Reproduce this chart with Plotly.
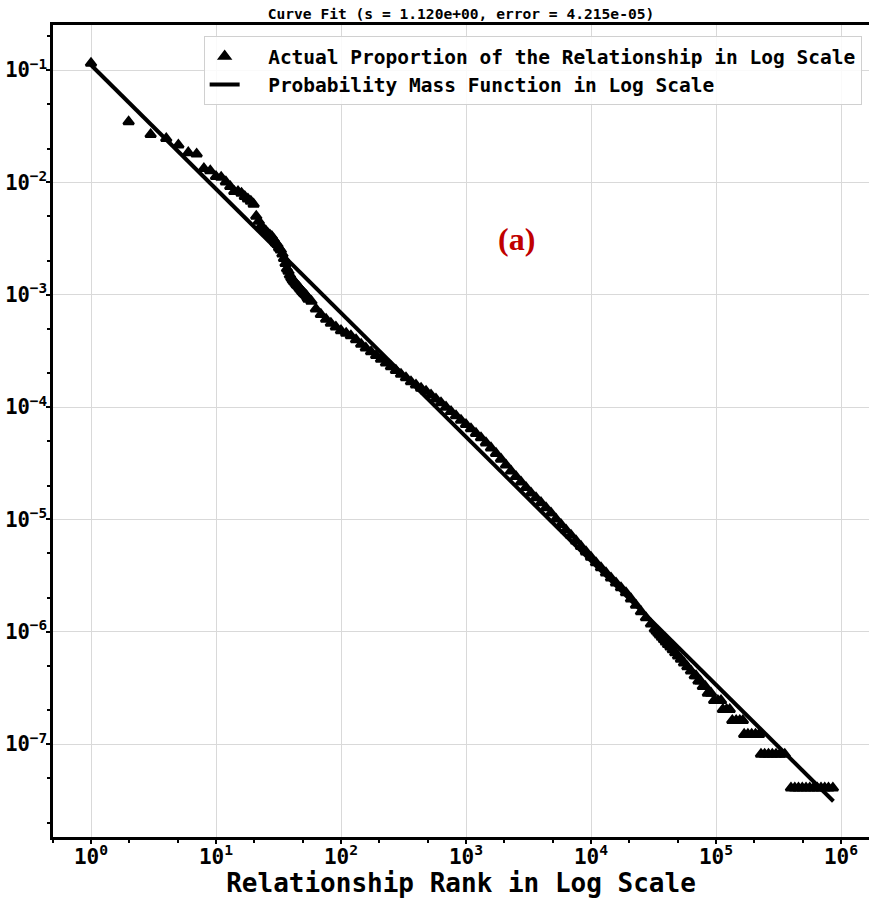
import plotly.graph_objects as go

# ---------------- data ----------------
head_rank = list(range(1, 56))
head_prop = [0.115, 0.0347, 0.0267, 0.0246, 0.0215, 0.0184, 0.0179, 0.0133, 0.0127, 0.0113,
             0.0111, 0.0101, 0.0092, 0.0083, 0.0083, 0.0080, 0.0075, 0.0071, 0.0068, 0.0064,
             0.0050, 0.0045, 0.0041, 0.0038, 0.0037, 0.0035, 0.0034, 0.0033, 0.0031, 0.0029,
             0.0028, 0.0026, 0.0025, 0.0023, 0.0021, 0.0019, 0.0017, 0.00162, 0.00150, 0.00142,
             0.00136, 0.00131, 0.00127, 0.00123, 0.00120, 0.00117, 0.00113, 0.00110, 0.00107, 0.00104,
             0.00102, 0.00100, 0.00098, 0.00094, 0.00091]

band_rank = [58, 63, 69, 76, 83, 91, 100, 110, 120, 132, 145, 158, 174, 191, 209, 229, 251, 275,
             302, 331, 363, 398, 437, 479, 525, 575, 631, 692, 759, 832, 912, 1000, 1096, 1202,
             1318, 1445, 1585, 1738, 1905, 2089, 2291, 2512, 2754, 3020, 3311, 3631, 3981, 4365,
             4786, 5248, 5754, 6310, 6918, 7586, 8318, 9120, 10000, 10965, 12023, 13183, 14454,
             15849, 17378, 19055, 20893, 22909, 25119, 27542, 30200]
band_prop = [8.75e-4, 7.46e-4, 6.68e-4, 6.04e-4, 5.56e-4, 5.15e-4, 4.79e-4, 4.54e-4, 4.31e-4,
             3.98e-4, 3.62e-4, 3.36e-4, 3.10e-4, 2.88e-4, 2.67e-4, 2.47e-4, 2.29e-4, 2.12e-4,
             1.96e-4, 1.82e-4, 1.68e-4, 1.57e-4, 1.47e-4, 1.38e-4, 1.28e-4, 1.18e-4, 1.09e-4,
             9.98e-5, 9.12e-5, 8.36e-5, 7.64e-5, 7.00e-5, 6.40e-5, 5.83e-5, 5.32e-5, 4.80e-5,
             4.33e-5, 3.87e-5, 3.44e-5, 3.05e-5, 2.70e-5, 2.41e-5, 2.15e-5, 1.92e-5, 1.72e-5,
             1.56e-5, 1.41e-5, 1.27e-5, 1.14e-5, 1.01e-5, 9.02e-6, 8.05e-6, 7.21e-6, 6.44e-6,
             5.75e-6, 5.14e-6, 4.60e-6, 4.11e-6, 3.71e-6, 3.34e-6, 3.01e-6, 2.72e-6, 2.46e-6,
             2.22e-6, 1.96e-6, 1.72e-6, 1.51e-6, 1.33e-6, 1.17e-6]

tail_rank = [32400, 33400, 34500, 35600, 36900, 38300, 39700, 41300, 43200, 45100, 47200,
             49700, 52400, 55500, 59000, 63100, 67600, 69200, 72400, 75000, 78500, 82200,
             86100, 91200, 96600, 103500, 109600, 113500, 121600, 128800,
             135000, 145000, 155000, 164000, 168000, 180000, 193000, 207000, 221000,
             229000, 245000, 263000, 282000, 302000, 324000, 355000,
             398000, 427000, 457000, 490000, 525000, 562000, 603000, 646000, 692000,
             741000, 794000, 861000]
tail_prop = [1.056e-6, 1.015e-6, 9.74e-7, 9.34e-7, 8.93e-7, 8.53e-7, 8.12e-7, 7.71e-7, 7.31e-7,
             6.90e-7, 6.50e-7, 6.09e-7, 5.68e-7, 5.28e-7, 4.87e-7, 4.47e-7, 4.06e-7, 4.06e-7,
             3.65e-7, 3.65e-7, 3.25e-7, 3.25e-7, 2.84e-7, 2.84e-7, 2.44e-7, 2.44e-7, 2.44e-7,
             2.03e-7, 2.03e-7, 2.03e-7,
             1.62e-7, 1.62e-7, 1.62e-7, 1.62e-7, 1.22e-7, 1.22e-7, 1.22e-7, 1.22e-7, 1.22e-7,
             8.12e-8, 8.12e-8, 8.12e-8, 8.12e-8, 8.12e-8, 8.12e-8, 8.12e-8,
             4.06e-8, 4.06e-8, 4.06e-8, 4.06e-8, 4.06e-8, 4.06e-8, 4.06e-8, 4.06e-8, 4.06e-8,
             4.06e-8, 4.06e-8, 4.06e-8]

fit_rank = [1, 870000]
fit_prop = [0.111, 3.10e-8]

x_tick_vals = [1, 10, 100, 1000, 10000, 100000, 1000000]
x_tick_text = ["10<sup>0</sup>", "10<sup>1</sup>", "10<sup>2</sup>", "10<sup>3</sup>",
               "10<sup>4</sup>", "10<sup>5</sup>", "10<sup>6</sup>"]
y_tick_vals = [1e-1, 1e-2, 1e-3, 1e-4, 1e-5, 1e-6, 1e-7]
y_tick_text = ["10<sup>\u22121</sup>", "10<sup>\u22122</sup>", "10<sup>\u22123</sup>",
               "10<sup>\u22124</sup>", "10<sup>\u22125</sup>", "10<sup>\u22126</sup>",
               "10<sup>\u22127</sup>"]

title_text = "Curve Fit (s = 1.120e+00, error = 4.215e-05)"
scatter_name = "Actual Proportion of the Relationship in Log Scale"
line_name = "Probability Mass Function in Log Scale"
x_title = "Relationship Rank in Log Scale"
panel_label = "(a)"

# ---------------- figure ----------------
MONO = "DejaVu Sans Mono"
GAP = "\u00a0\u00a0"
all_rank = head_rank + band_rank + tail_rank
all_prop = head_prop + band_prop + tail_prop

fig = go.Figure()
fig.add_trace(go.Scatter(
    x=all_rank, y=all_prop, mode="markers", name=GAP + scatter_name,
    marker=dict(symbol="triangle-up", size=9, color="black",
                line=dict(color="black", width=2.5)),
))
fig.add_trace(go.Scatter(
    x=fit_rank, y=fit_prop, mode="lines", name=GAP + line_name,
    line=dict(color="black", width=4),
))

axis_common = dict(
    type="log", showgrid=True, gridcolor="#d9d9d9", gridwidth=1,
    showline=True, linecolor="black", linewidth=2.5, mirror=True,
    ticks="outside", ticklen=4, tickwidth=1.5, tickcolor="black",
    zeroline=False, automargin=False,
)

fig.update_xaxes(
    **axis_common, range=[-0.304, 6.224],
    tickmode="array", tickvals=x_tick_vals, ticktext=x_tick_text,
    ticklabelstandoff=-5,
    tickfont=dict(family=MONO, size=21, color="black", weight="bold"),
    minor=dict(ticks="outside", ticklen=3, tickcolor="black", showgrid=False),
    title=dict(text=x_title, font=dict(family=MONO, size=26, color="black", weight="bold"),
               standoff=0),
)
fig.update_yaxes(
    **axis_common, range=[-7.827, -0.599],
    tickmode="array", tickvals=y_tick_vals, ticktext=y_tick_text,
    ticklabelstandoff=-5,
    tickfont=dict(family=MONO, size=20.5, color="black", weight="bold"),
    minor=dict(ticks="outside", ticklen=3, tickcolor="black", showgrid=False),
)

fig.add_annotation(
    text=panel_label, xref="paper", yref="paper", x=0.568, y=0.737,
    xanchor="center", yanchor="middle",
    showarrow=False, font=dict(family="Liberation Serif", size=32, color="#c00000", weight="bold"),
)

fig.update_layout(
    width=869, height=898,
    margin=dict(l=53, r=0, t=25, b=61),
    paper_bgcolor="white", plot_bgcolor="white",
    title=dict(text=title_text, x=0.5, xref="paper", xanchor="center",
               y=0.984, yref="container", yanchor="middle",
               font=dict(family=MONO, size=14.6, color="black", weight="bold")),
    legend=dict(x=0.991, y=0.9865, xanchor="right", yanchor="top",
                bgcolor="rgba(255,255,255,0.85)", bordercolor="#d0d0d0", borderwidth=1,
                font=dict(family=MONO, size=19.5, color="black", weight="bold")),
    showlegend=True,
)

fig.write_html("out.html", config={"displayModeBar": False},
               post_script="document.body.style.margin='0px';")
